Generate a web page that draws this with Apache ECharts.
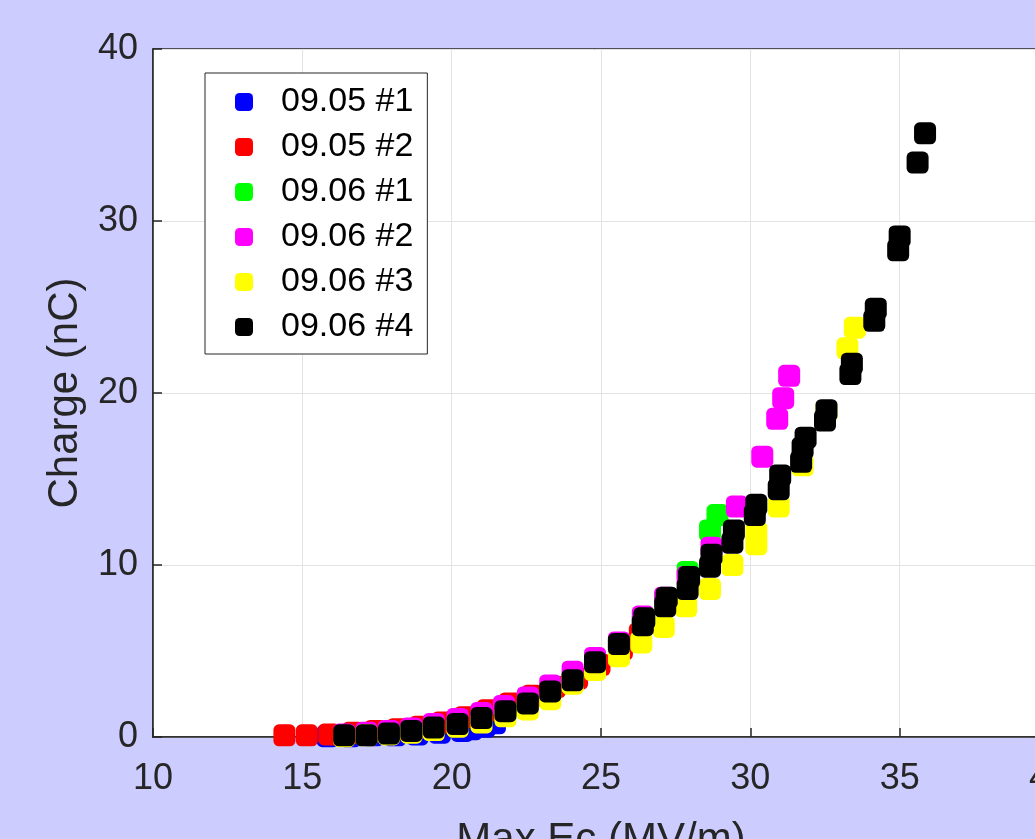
<!DOCTYPE html>
<html>
<head>
<meta charset="utf-8">
<script src="https://cdn.jsdelivr.net/npm/echarts@6/dist/echarts.min.js"></script>
<style>
html,body{margin:0;padding:0;background:#ccccff;}
#chart{width:1035px;height:839px;}
</style>
</head>
<body>
<div id="chart"></div>
<script>
// Series names
const seriesNames = ['09.05 #1','09.05 #2','09.06 #1','09.06 #2','09.06 #3','09.06 #4'];
const seriesColors = ['#0000ff','#ff0000','#00ff00','#ff00ff','#ffff00','#000000'];
const xTicks = [10,15,20,25,30,35,40];
const yTicks = [0,10,20,30,40];

// [Max Ec (MV/m), Charge (nC)]
const s0905_1 = [[15.85,0.05],[16.6,0.05],[17.35,0.1],[18.1,0.1],[18.85,0.15],[19.6,0.25],[20.35,0.35],[20.65,0.45],[21.1,0.6],[21.45,0.8]];
const s0905_2 = [[14.4,0.1],[15.15,0.1],[15.9,0.15],[16.7,0.25],[17.45,0.35],[18.2,0.45],[18.95,0.6],[19.7,0.85],[20.45,1.15],[21.2,1.55],[21.95,1.95],[22.7,2.4],[23.45,2.9],[24.2,3.4],[24.95,4.2],[25.7,5.1],[26.3,6.0]];
const s0906_1 = [[17.9,0.2],[18.65,0.35],[19.4,0.55],[20.2,0.8],[21.0,1.1],[21.8,1.5],[22.55,1.95],[23.3,2.55],[24.05,3.35],[24.8,4.3],[25.6,5.3],[26.4,6.7],[27.15,8.0],[27.9,9.6],[28.65,12.0],[28.9,12.9]];
const s0906_2 = [[16.4,0.15],[17.15,0.25],[17.9,0.35],[18.65,0.5],[19.4,0.75],[20.2,1.05],[21.0,1.4],[21.75,1.8],[22.55,2.3],[23.3,3.0],[24.05,3.8],[24.8,4.6],[25.6,5.5],[26.4,7.0],[27.15,8.1],[27.9,9.3],[28.7,11.0],[29.55,13.4],[30.4,16.3],[30.9,18.5],[31.1,19.7],[31.3,21.0]];
const s0906_3 = [[16.4,0.05],[17.15,0.1],[17.9,0.15],[18.65,0.25],[19.4,0.4],[20.2,0.6],[21.0,0.85],[21.8,1.2],[22.55,1.6],[23.3,2.2],[24.05,3.1],[24.8,3.9],[25.6,4.7],[26.35,5.5],[27.1,6.4],[27.85,7.6],[28.65,8.6],[29.4,10.0],[30.2,11.2],[30.2,11.9],[30.95,13.4],[31.75,15.8],[32.55,18.95],[33.25,22.6],[33.5,23.8]];
const s0906_4 = [[16.4,0.1],[17.15,0.1],[17.9,0.2],[18.65,0.35],[19.4,0.55],[20.2,0.75],[21.0,1.1],[21.8,1.5],[22.55,1.95],[23.3,2.65],[24.05,3.3],[24.8,4.35],[25.6,5.4],[26.4,6.5],[26.45,6.9],[27.15,7.6],[27.2,8.1],[27.9,8.6],[27.95,9.3],[28.65,9.9],[28.7,10.6],[29.4,11.3],[29.45,12.0],[30.15,12.9],[30.2,13.5],[30.95,14.4],[31.0,15.2],[31.7,16.0],[31.75,16.8],[31.85,17.4],[32.5,18.4],[32.55,19.0],[33.35,21.1],[33.4,21.7],[34.15,24.2],[34.2,24.9],[34.95,28.3],[35.0,29.1],[35.6,33.4],[35.85,35.1]];

const allData = [s0905_1,s0905_2,s0906_1,s0906_2,s0906_3,s0906_4];

const chart = echarts.init(document.getElementById('chart'), null, {renderer:'canvas'});
const fontFam = 'Liberation Sans, Arial, sans-serif';
const axisCol = '#262626';

chart.setOption({
  backgroundColor: '#ccccff',
  animation: false,
  grid: {
    left: 153, top: 49, right: -14, bottom: 102,
    containLabel: false, outerBoundsMode: 'none',
    show: true, backgroundColor: '#ffffff', borderColor: axisCol, borderWidth: 1.5
  },
  legend: {
    orient: 'vertical',
    left: 205, top: 73,
    padding: [9, 14, 7, 30],
    itemWidth: 18, itemHeight: 18, itemGap: 5,
    backgroundColor: '#ffffff',
    borderColor: axisCol, borderWidth: 1,
    icon: 'roundRect',
    textStyle: {fontSize: 34, fontFamily: fontFam, color: '#000000', lineHeight: 40, padding: [0,0,0,23]},
    data: seriesNames
  },
  xAxis: {
    type: 'value', min: xTicks[0], max: xTicks[xTicks.length-1], interval: 5,
    name: 'Max Ec (MV/m)', nameLocation: 'middle', nameGap: 82,
    nameTextStyle: {fontSize: 42, fontFamily: fontFam, color: axisCol},
    axisLine: {show: true, lineStyle: {color: axisCol, width: 1.5}},
    axisTick: {show: true, inside: true, length: 9, lineStyle: {color: axisCol, width: 1.5}},
    axisLabel: {fontSize: 36, fontFamily: fontFam, color: axisCol, margin: 24},
    splitLine: {show: true, lineStyle: {color: '#e3e3e3', width: 1}}
  },
  yAxis: {
    type: 'value', min: yTicks[0], max: yTicks[yTicks.length-1], interval: 10,
    name: 'Charge (nC)', nameLocation: 'middle', nameGap: 67, nameRotate: 90,
    nameTextStyle: {fontSize: 42, fontFamily: fontFam, color: axisCol},
    axisLine: {show: true, lineStyle: {color: axisCol, width: 1.5}},
    axisTick: {show: true, inside: true, length: 9, lineStyle: {color: axisCol, width: 1.5}},
    axisLabel: {fontSize: 36, fontFamily: fontFam, color: axisCol, margin: 15},
    splitLine: {show: true, lineStyle: {color: '#e3e3e3', width: 1}}
  },
  series: seriesNames.map((n,i) => ({
    name: n, type: 'scatter', symbol: 'roundRect', symbolSize: 22,
    itemStyle: {color: seriesColors[i], opacity: 1},
    data: allData[i], z: 2 + i
  }))
});
</script>
</body>
</html>
